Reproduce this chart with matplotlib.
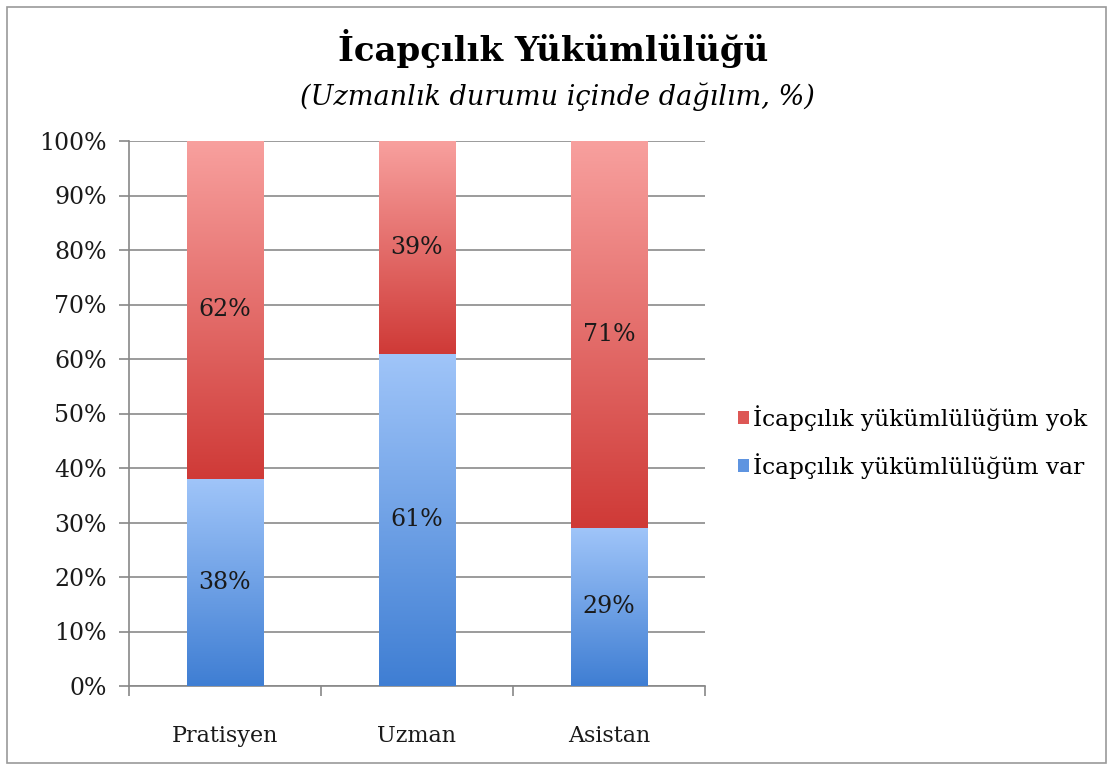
import matplotlib
matplotlib.use("Agg")
import matplotlib.pyplot as plt
import numpy as np
from matplotlib.colors import LinearSegmentedColormap
from matplotlib.patches import Rectangle

categories = ["Pratisyen", "Uzman", "Asistan"]
var_vals = [38, 61, 29]
yok_vals = [62, 39, 71]
series_names = ["İcapçılık yükümlülüğüm yok", "İcapçılık yükümlülüğüm var"]
title = "İcapçılık Yükümlülüğü"
subtitle = "(Uzmanlık durumu içinde dağılım, %)"

FONT = ["DejaVu Serif"]
plt.rcParams['font.family'] = FONT

W, H = 1113, 769
fig = plt.figure(figsize=(W/100, H/100), dpi=100)
ax = fig.add_axes([129/W, 1-686/H, 576/W, 545/H])

blue_cmap = LinearSegmentedColormap.from_list("b", ["#3F7ED3", "#A0C5F9"])
red_cmap = LinearSegmentedColormap.from_list("r", ["#CF3A37", "#F8A09E"])

x = np.arange(len(categories))
width = 0.40
b1 = ax.bar(x, var_vals, width, color="none", zorder=3)
b2 = ax.bar(x, yok_vals, width, bottom=var_vals, color="none", zorder=3)

grad = np.linspace(0, 1, 256).reshape(-1, 1)
for bars, cmap in ((b1, blue_cmap), (b2, red_cmap)):
    for p in bars:
        x0, y0 = p.get_x(), p.get_y()
        w, h = p.get_width(), p.get_height()
        im = ax.imshow(grad, cmap=cmap, origin="lower", aspect="auto",
                       extent=(x0, x0 + w, y0, y0 + h), zorder=3)
        im.set_clip_path(p)
        ax.text(x0 + w/2, y0 + h/2, f"{int(round(h))}%", ha="center", va="center",
                fontsize=17, color="#1a1a1a", zorder=5)

ax.set_xlim(-0.5, len(categories) - 0.5)
ax.set_ylim(0, 100)
ax.set_yticks(np.arange(0, 101, 10))
ax.set_yticklabels([f"{v}%" for v in range(0, 101, 10)], fontsize=17, color="#1a1a1a")
ax.set_xticks(x)
ax.set_xticklabels(categories, fontsize=16, color="#1a1a1a")
ax.tick_params(axis="x", length=0, pad=28)
ax.set_xticks(np.arange(-0.5, len(categories)), minor=True)
ax.tick_params(axis="x", which="minor", length=7, color="#888888", width=1.2)
ax.tick_params(axis="y", length=7, color="#888888", width=1.2, pad=9)
ax.grid(axis="y", color="#8a8a8a", linewidth=1.2, zorder=0)
ax.set_axisbelow(True)
for s in ("top", "right"):
    ax.spines[s].set_visible(False)
for s in ("left", "bottom"):
    ax.spines[s].set_color("#888888")
    ax.spines[s].set_linewidth(1.2)

# legend
handles = [Rectangle((0, 0), 1, 1, facecolor="#DD5755", edgecolor="none"),
           Rectangle((0, 0), 1, 1, facecolor="#5E94E0", edgecolor="none")]
fig.legend(handles, series_names, loc="center left", bbox_to_anchor=(717/W, 1-442/H),
           frameon=False, fontsize=16.8, handlelength=0.45, handleheight=0.45,
           handletextpad=0.2, labelspacing=0.95)

fig.text(553/W, 1-48/H, title, ha="center", va="center", fontsize=24.5, fontweight="bold")
fig.text(557/W, 1-97/H, subtitle, ha="center", va="center", fontsize=19.5, style="italic")

fig.add_artist(Rectangle((7/W, 6/H), 1099/W, 756/H, transform=fig.transFigure,
                         fill=False, edgecolor="#9a9a9a", linewidth=1.2))

fig.savefig("out.png", dpi=100, facecolor="white")
